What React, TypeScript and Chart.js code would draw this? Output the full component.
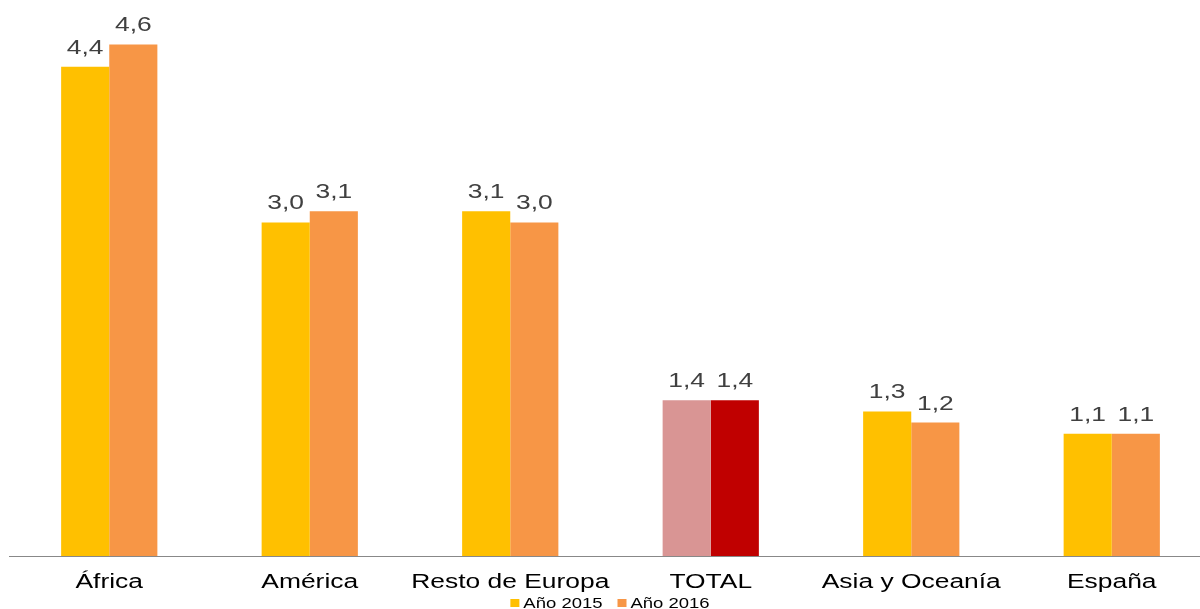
import React, { useEffect, useRef } from "react";
import { Chart, registerables } from "chart.js";

Chart.register(...registerables);

const categories = ["África", "América", "Resto de Europa", "TOTAL", "Asia y Oceanía", "España"];
const values2015 = [4.4, 3.0, 3.1, 1.4, 1.3, 1.1];
const values2016 = [4.6, 3.1, 3.0, 1.4, 1.2, 1.1];
const seriesLabels = ["Año 2015", "Año 2016"];
const seriesColors = ["#FFC000", "#F79646"];
const colors2015 = ["#FFC000", "#FFC000", "#FFC000", "#D99594", "#FFC000", "#FFC000"];
const colors2016 = ["#F79646", "#F79646", "#F79646", "#C00000", "#F79646", "#F79646"];

const FONT = "'Liberation Sans', Arial, sans-serif";
const STRETCH = 1.32;

function stretchedText(ctx: CanvasRenderingContext2D, text: string, x: number, y: number) {
  ctx.save();
  ctx.translate(x, y);
  ctx.scale(STRETCH, 1);
  ctx.fillText(text, 0, 0);
  ctx.restore();
}

const textPlugin = {
  id: "customText",
  afterDraw(chart: any) {
    const ctx: CanvasRenderingContext2D = chart.ctx;
    ctx.save();
    // value labels
    ctx.font = `20px ${FONT}`;
    ctx.fillStyle = "#404040";
    ctx.textAlign = "center";
    ctx.textBaseline = "alphabetic";
    chart.data.datasets.forEach((ds: any, di: number) => {
      const meta = chart.getDatasetMeta(di);
      meta.data.forEach((bar: any, i: number) => {
        const v = ds.data[i] as number;
        stretchedText(ctx, v.toFixed(1).replace(".", ","), bar.x, bar.y - 13);
      });
    });
    // category labels
    const xs = chart.scales.x;
    const bottom = chart.chartArea.bottom;
    ctx.fillStyle = "#000000";
    ctx.font = `20px ${FONT}`;
    categories.forEach((c, i) => {
      stretchedText(ctx, c, xs.getPixelForValue(i), bottom + 32);
    });
    // legend
    ctx.font = `14px ${FONT}`;
    ctx.textAlign = "left";
    const widths = seriesLabels.map((l) => ctx.measureText(l).width * STRETCH);
    const box = 9;
    const gap = 4;
    const itemGap = 15;
    const total = widths.reduce((a, w) => a + box + gap + w, 0) + itemGap;
    let x = 610 - total / 2;
    const baseline = bottom + 52;
    seriesLabels.forEach((l, i) => {
      ctx.fillStyle = seriesColors[i];
      ctx.fillRect(x, baseline - 9, box, 8);
      x += box + gap;
      ctx.fillStyle = "#000000";
      stretchedText(ctx, l, x, baseline);
      x += widths[i] + itemGap;
    });
    ctx.restore();
  },
};

export default function App() {
  const ref = useRef<HTMLCanvasElement>(null);
  useEffect(() => {
    if (!ref.current) return;
    const chart = new Chart(ref.current, {
      type: "bar",
      data: {
        labels: categories,
        datasets: [
          {
            label: seriesLabels[0],
            data: values2015,
            backgroundColor: colors2015,
            barPercentage: 1,
            categoryPercentage: 0.48,
          },
          {
            label: seriesLabels[1],
            data: values2016,
            backgroundColor: colors2016,
            barPercentage: 1,
            categoryPercentage: 0.48,
          },
        ],
      },
      options: {
        responsive: false,
        animation: false,
        layout: { padding: { left: 9, right: 0, top: 0, bottom: 53 } },
        scales: {
          x: {
            grid: { display: false, drawTicks: false },
            border: { display: true, color: "#888888", width: 1 },
            ticks: { display: false },
          },
          y: {
            display: false,
            min: 0,
            max: 5,
          },
        },
        plugins: {
          legend: { display: false },
          tooltip: { enabled: false },
        },
      },
      plugins: [textPlugin],
    });
    return () => chart.destroy();
  }, []);
  return (
    <div style={{ position: "fixed", left: 0, top: 0, width: 1200, height: 609, overflow: "hidden", background: "#fff" }}>
      <canvas ref={ref} width={1212} height={609} style={{ display: "block" }} />
    </div>
  );
}
